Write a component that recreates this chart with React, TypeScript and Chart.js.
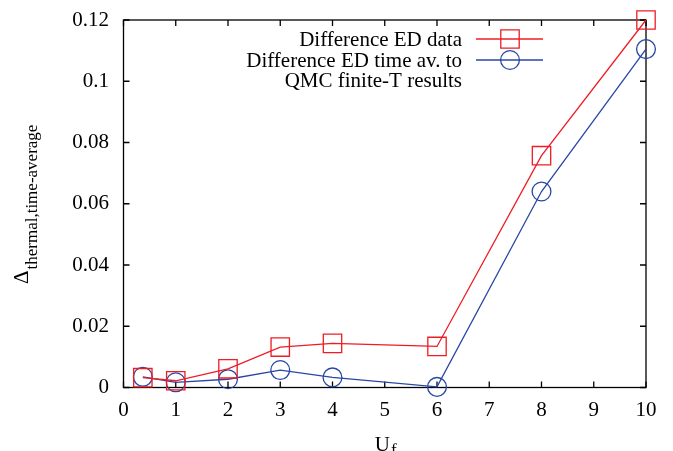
import { useEffect, useRef } from 'react';
import { Chart, registerables } from 'chart.js';

Chart.register(...registerables);

// Interaction strength U_f and the two deviation curves
const uValues = [0.37, 1, 2, 3, 4, 6, 8, 10];
const diffED = [0.0032, 0.0022, 0.0061, 0.0132, 0.0144, 0.0134, 0.0757, 0.12];
const diffQMC = [0.0035, 0.0017, 0.0027, 0.0057, 0.0033, 0.0002, 0.064, 0.1105];

const xTicks = [0, 1, 2, 3, 4, 5, 6, 7, 8, 9, 10];
const yTicks = [0, 0.02, 0.04, 0.06, 0.08, 0.1, 0.12];
const yTickLabels = ['0', '0.02', '0.04', '0.06', '0.08', '0.1', '0.12'];

const legendLines = [
  ['Difference ED data'],
  ['Difference ED time av. to', 'QMC finite-T results'],
];

const RED = 'rgb(238, 28, 36)';
const BLUE = 'rgb(40, 70, 165)';
const FONT = '"Liberation Serif", "DejaVu Serif", serif';

function drawMarker(ctx: CanvasRenderingContext2D, kind: 'rect' | 'circle', x: number, y: number, color: string) {
  ctx.save();
  ctx.strokeStyle = color;
  ctx.lineWidth = 1.3;
  ctx.beginPath();
  if (kind === 'rect') {
    ctx.rect(x - 9.2, y - 9.2, 18.4, 18.4);
  } else {
    ctx.arc(x, y, 9.4, 0, Math.PI * 2);
  }
  ctx.stroke();
  ctx.restore();
}

const framePlugin = {
  id: 'frameTicks',
  beforeDatasetsDraw(chart: any) {
    const { ctx, chartArea: a, scales } = chart;
    const xs = scales.x;
    const ys = scales.y;
    ctx.save();
    ctx.strokeStyle = '#000';
    ctx.lineWidth = 1.3;
    ctx.strokeRect(a.left, a.top, a.right - a.left, a.bottom - a.top);
    const len = 6;
    ctx.beginPath();
    xTicks.forEach((v) => {
      const px = xs.getPixelForValue(v);
      ctx.moveTo(px, a.bottom);
      ctx.lineTo(px, a.bottom - len);
      ctx.moveTo(px, a.top);
      ctx.lineTo(px, a.top + len);
    });
    yTicks.forEach((v) => {
      const py = ys.getPixelForValue(v);
      ctx.moveTo(a.left, py);
      ctx.lineTo(a.left + len, py);
      ctx.moveTo(a.right, py);
      ctx.lineTo(a.right - len, py);
    });
    ctx.stroke();
    ctx.restore();
  },
  afterDraw(chart: any) {
    const { ctx, chartArea: a } = chart;
    ctx.save();
    ctx.fillStyle = '#000';

    // y axis title: Delta with subscript, rotated
    ctx.save();
    ctx.translate(28, 284);
    ctx.rotate(-Math.PI / 2);
    ctx.textAlign = 'left';
    ctx.textBaseline = 'alphabetic';
    ctx.font = `21px ${FONT}`;
    ctx.fillText('\u0394', 0, 0);
    const dw = ctx.measureText('\u0394').width;
    ctx.font = `17px ${FONT}`;
    ctx.fillText('thermal,time-average', dw + 1, 8.5);
    ctx.restore();

    // x axis title: U_f
    ctx.textBaseline = 'alphabetic';
    ctx.textAlign = 'left';
    ctx.font = `21px ${FONT}`;
    const ux = (a.left + a.right) / 2 - 10;
    ctx.fillText('U', ux, 451);
    const uw = ctx.measureText('U').width;
    ctx.font = `17px ${FONT}`;
    ctx.fillText('f', ux + uw + 1, 455);

    // key, top-left of the right half
    const textRight = 462;
    const sx0 = 476;
    const sx1 = 543;
    const sxm = 510;
    const rows = [39, 60];
    const colors = [RED, BLUE];
    const kinds: ('rect' | 'circle')[] = ['rect', 'circle'];
    ctx.font = `21px ${FONT}`;
    ctx.textAlign = 'right';
    ctx.textBaseline = 'middle';
    legendLines.forEach((lines, i) => {
      const y = rows[i];
      lines.forEach((t, j) => {
        ctx.fillText(t, textRight, y + 1 + j * 20.5);
      });
      ctx.strokeStyle = colors[i];
      ctx.lineWidth = 1.3;
      ctx.beginPath();
      ctx.moveTo(sx0, y);
      ctx.lineTo(sx1, y);
      ctx.stroke();
      drawMarker(ctx, kinds[i], sxm, y, colors[i]);
    });
    ctx.restore();
  },
};

export default function App() {
  const ref = useRef<HTMLCanvasElement | null>(null);

  useEffect(() => {
    if (!ref.current) return;
    const chart = new Chart(ref.current, {
      type: 'line',
      data: {
        datasets: [
          {
            label: legendLines[0].join(' '),
            data: uValues.map((u, i) => ({ x: u, y: diffED[i] })),
            borderColor: RED,
            backgroundColor: 'transparent',
            borderWidth: 1.3,
            pointStyle: 'rect',
            pointRadius: 13,
            pointBorderWidth: 1.3,
            pointBorderColor: RED,
            pointBackgroundColor: 'transparent',
            tension: 0,
            clip: false,
          },
          {
            label: legendLines[1].join(' '),
            data: uValues.map((u, i) => ({ x: u, y: diffQMC[i] })),
            borderColor: BLUE,
            backgroundColor: 'transparent',
            borderWidth: 1.3,
            pointStyle: 'circle',
            pointRadius: 9.4,
            pointBorderWidth: 1.3,
            pointBorderColor: BLUE,
            pointBackgroundColor: 'transparent',
            tension: 0,
            clip: false,
          },
        ],
      },
      options: {
        animation: false,
        responsive: false,
        devicePixelRatio: 1,
        layout: { padding: { left: 0, right: 27, top: 20, bottom: 0 } },
        plugins: { legend: { display: false }, tooltip: { enabled: false } },
        scales: {
          x: {
            type: 'linear',
            min: 0,
            max: 10,
            grid: { display: false, drawTicks: false },
            border: { display: false },
            afterBuildTicks: (s: any) => {
              s.ticks = xTicks.map((v) => ({ value: v }));
            },
            afterFit: (s: any) => {
              s.height = 63.5;
              s.paddingLeft = 0;
              s.paddingRight = 0;
            },
            ticks: {
              color: '#000',
              font: { family: FONT, size: 21 },
              padding: 10.5,
              maxRotation: 0,
              autoSkip: false,
              callback: (v: any) => String(v),
            },
          },
          y: {
            type: 'linear',
            min: 0,
            max: 0.12,
            grid: { display: false, drawTicks: false },
            border: { display: false },
            afterBuildTicks: (s: any) => {
              s.ticks = yTicks.map((v) => ({ value: v }));
            },
            afterFit: (s: any) => {
              s.width = 123.5;
              s.paddingTop = 0;
              s.paddingBottom = 0;
            },
            ticks: {
              color: '#000',
              font: { family: FONT, size: 21 },
              padding: 14.5,
              autoSkip: false,
              callback: (_v: any, i: number) => yTickLabels[i],
            },
          },
        },
      },
      plugins: [framePlugin],
    } as any);
    return () => chart.destroy();
  }, []);

  return (
    <div style={{ position: 'fixed', left: 0, top: 0, width: 673, height: 451, background: '#fff' }}>
      <canvas ref={ref} width={673} height={451} style={{ width: 673, height: 451 }} />
    </div>
  );
}
